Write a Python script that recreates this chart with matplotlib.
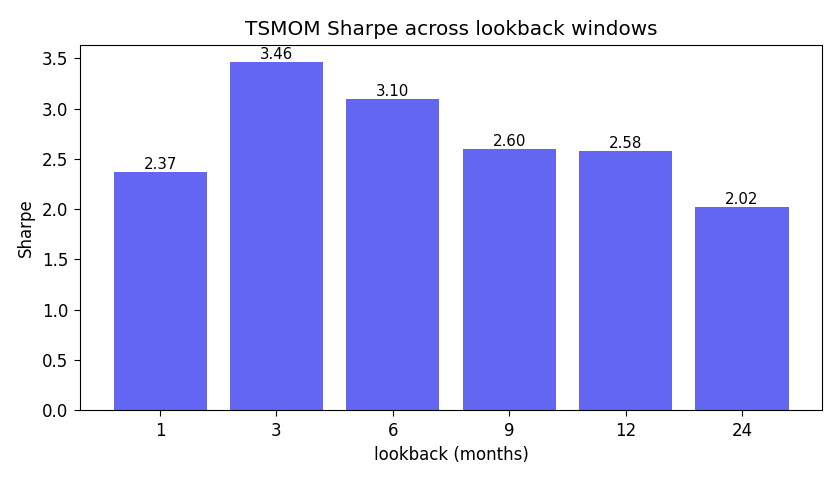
import matplotlib
matplotlib.use("Agg")
import matplotlib.pyplot as plt

# lookback windows (months) and Sharpe per window
lookbacks = ["1", "3", "6", "9", "12", "24"]
sharpe = [2.37, 3.46, 3.10, 2.60, 2.58, 2.02]

fig, ax = plt.subplots(figsize=(8.4, 4.8), dpi=100)
bars = ax.bar(lookbacks, sharpe, color="#6366f1")
ax.bar_label(bars, labels=[f"{v:.2f}" for v in sharpe], fontsize=10.8)
ax.set_title("TSMOM Sharpe across lookback windows", fontsize=14.4, pad=7.2)
ax.set_xlabel("lookback (months)", fontsize=12, labelpad=4.8)
ax.set_ylabel("Sharpe", fontsize=12, labelpad=4.8)
ax.tick_params(labelsize=12, length=4.2, pad=4.2)

fig.subplots_adjust(left=0.095, right=0.979, top=0.906, bottom=0.146)
plt.savefig("out.png", dpi=100)
